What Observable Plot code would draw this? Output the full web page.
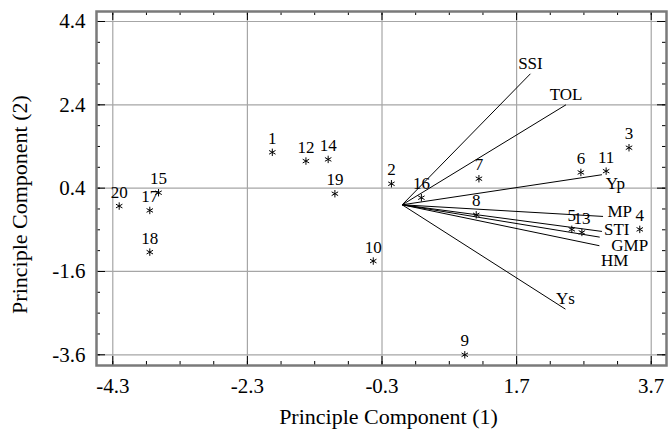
<!DOCTYPE html>
<html><head><meta charset="utf-8">
<script src="https://cdn.jsdelivr.net/npm/d3@7"></script>
<script src="https://cdn.jsdelivr.net/npm/@observablehq/plot@0.6"></script>
<style>
body{margin:0;background:#fff;font-family:"Liberation Serif",serif}
#chart svg text{font-family:"Liberation Serif",serif}
</style>
</head><body><div id="chart"></div>
<script>
// Genotype scores
const genotypeIds = ["1","2","3","4","5","6","7","8","9","10","11","12","13","14","15","16","17","18","19","20"];
const pc1Scores = [-1.93,-0.16,3.37,3.53,2.52,2.655,1.14,1.10,0.93,-0.43,3.03,-1.43,2.67,-1.10,-3.62,0.285,-3.75,-3.75,-1.00,-4.205];
const pc2Scores = [1.26,0.505,1.37,-0.59,-0.59,0.777,0.626,-0.24,-3.60,-1.35,0.808,1.05,-0.663,1.09,0.29,0.17,-0.135,-1.136,0.266,-0.03];

// Trait vectors
const traitNames = ["SSI","TOL","Yp","MP","STI","GMP","HM","Ys"];
const traitPc1 = [1.905,2.434,2.968,2.984,2.968,2.935,2.93,2.425];
const traitPc2 = [3.145,2.401,0.722,-0.279,-0.639,-0.776,-0.982,-2.504];
const traitLabelPc1 = [1.905,2.434,3.168,3.232,3.187,3.38,3.157,2.425];
const traitLabelPc2 = [3.40,2.64,0.52,-0.16,-0.59,-0.975,-1.335,-2.24];

// Axes
const xDomain = [-4.542, 3.927];
const yDomain = [-3.857, 4.64];
const xMajorTicks = [-4.3,-2.3,-0.3,1.7,3.7];
const xMajorLabels = ["-4.3","-2.3","-0.3","1.7","3.7"];
const yMajorTicks = [-3.6,-1.6,0.4,2.4,4.4];
const yMajorLabels = ["-3.6","-1.6","0.4","2.4","4.4"];
const xMinorTicks = [-4.3,-3.8,-3.3,-2.8,-2.3,-1.8,-1.3,-0.8,-0.3,0.2,0.7,1.2,1.7,2.2,2.7,3.2,3.7];
const yMinorTicks = [-3.6,-3.1,-2.6,-2.1,-1.6,-1.1,-0.6,-0.1,0.4,0.9,1.4,1.9,2.4,2.9,3.4,3.9,4.4];
const xTitle = "Principle Component (1)";
const yTitle = "Principle Component (2)";

const points = genotypeIds.map((id, i) => ({id, x: pc1Scores[i], y: pc2Scores[i]}));
const traits = traitNames.map((name, i) => ({name, x: traitPc1[i], y: traitPc2[i], lx: traitLabelPc1[i], ly: traitLabelPc2[i]}));

const W = 668, H = 432;
const mL = 96, mR = 2, mT = 11, mB = 67;
const innerW = W - mL - mR, innerH = H - mT - mB;
const serif = "Liberation Serif";
const gridColor = "#a6a6a6";
const majorLen = 9, minorLen = 4;
const txt = {fontFamily: serif, fill: "#000"};

const chart = Plot.plot({
  width: W, height: H,
  marginLeft: mL, marginRight: mR, marginTop: mT, marginBottom: mB,
  x: {domain: xDomain, axis: null},
  y: {domain: yDomain, axis: null},
  style: {fontFamily: serif, background: "#fff"},
  marks: [
    Plot.gridX(xMajorTicks, {stroke: gridColor, strokeOpacity: 1, strokeWidth: 1.2}),
    Plot.gridY(yMajorTicks, {stroke: gridColor, strokeOpacity: 1, strokeWidth: 1.2}),
    // inward ticks
    Plot.tickX(xMinorTicks, {x: d => d, insetTop: innerH - minorLen, stroke: "#000"}),
    Plot.tickX(xMinorTicks, {x: d => d, insetBottom: innerH - minorLen, stroke: "#000"}),
    Plot.tickX(xMajorTicks, {x: d => d, insetTop: innerH - majorLen, stroke: "#000"}),
    Plot.tickX(xMajorTicks, {x: d => d, insetBottom: innerH - majorLen, stroke: "#000"}),
    Plot.tickY(yMinorTicks, {y: d => d, insetRight: innerW - minorLen, stroke: "#000"}),
    Plot.tickY(yMinorTicks, {y: d => d, insetLeft: innerW - minorLen, stroke: "#000"}),
    Plot.tickY(yMajorTicks, {y: d => d, insetRight: innerW - majorLen, stroke: "#000"}),
    Plot.tickY(yMajorTicks, {y: d => d, insetLeft: innerW - majorLen, stroke: "#000"}),
    Plot.frame({stroke: "#7a7a7a", strokeWidth: 2.5}),
    // tick labels
    Plot.text(xMajorTicks, {...txt, x: d => d, text: (d, i) => xMajorLabels[i], frameAnchor: "bottom", dy: 21, lineAnchor: "middle", fontSize: 21}),
    Plot.text(yMajorTicks, {...txt, y: d => d, text: (d, i) => yMajorLabels[i], frameAnchor: "left", dx: -11, textAnchor: "end", lineAnchor: "middle", fontSize: 21}),
    // axis titles
    Plot.text([xTitle], {...txt, text: d => d, frameAnchor: "bottom", dy: 51, dx: 7, textAnchor: "middle", lineAnchor: "middle", fontSize: 22}),
    Plot.text([yTitle], {...txt, text: d => d, frameAnchor: "left", dx: -77, dy: 16, rotate: -90, textAnchor: "middle", lineAnchor: "middle", fontSize: 22}),
    // trait vectors
    Plot.link(traits, {x1: () => 0, y1: () => 0, x2: "x", y2: "y", stroke: "#000", strokeWidth: 1}),
    Plot.text(traits, {...txt, x: "lx", y: "ly", text: "name", fontSize: 17, lineAnchor: "middle"}),
    // genotypes
    Plot.dot(points, {x: "x", y: "y", symbol: "asterisk", r: 3.5, stroke: "#000", strokeWidth: 1}),
    Plot.text(points, {...txt, x: "x", y: "y", text: "id", dy: -14, lineAnchor: "middle", fontSize: 17})
  ]
});
d3.select(chart).selectAll("text").attr("font-family", serif);
document.getElementById("chart").append(chart);
</script>
</body></html>
